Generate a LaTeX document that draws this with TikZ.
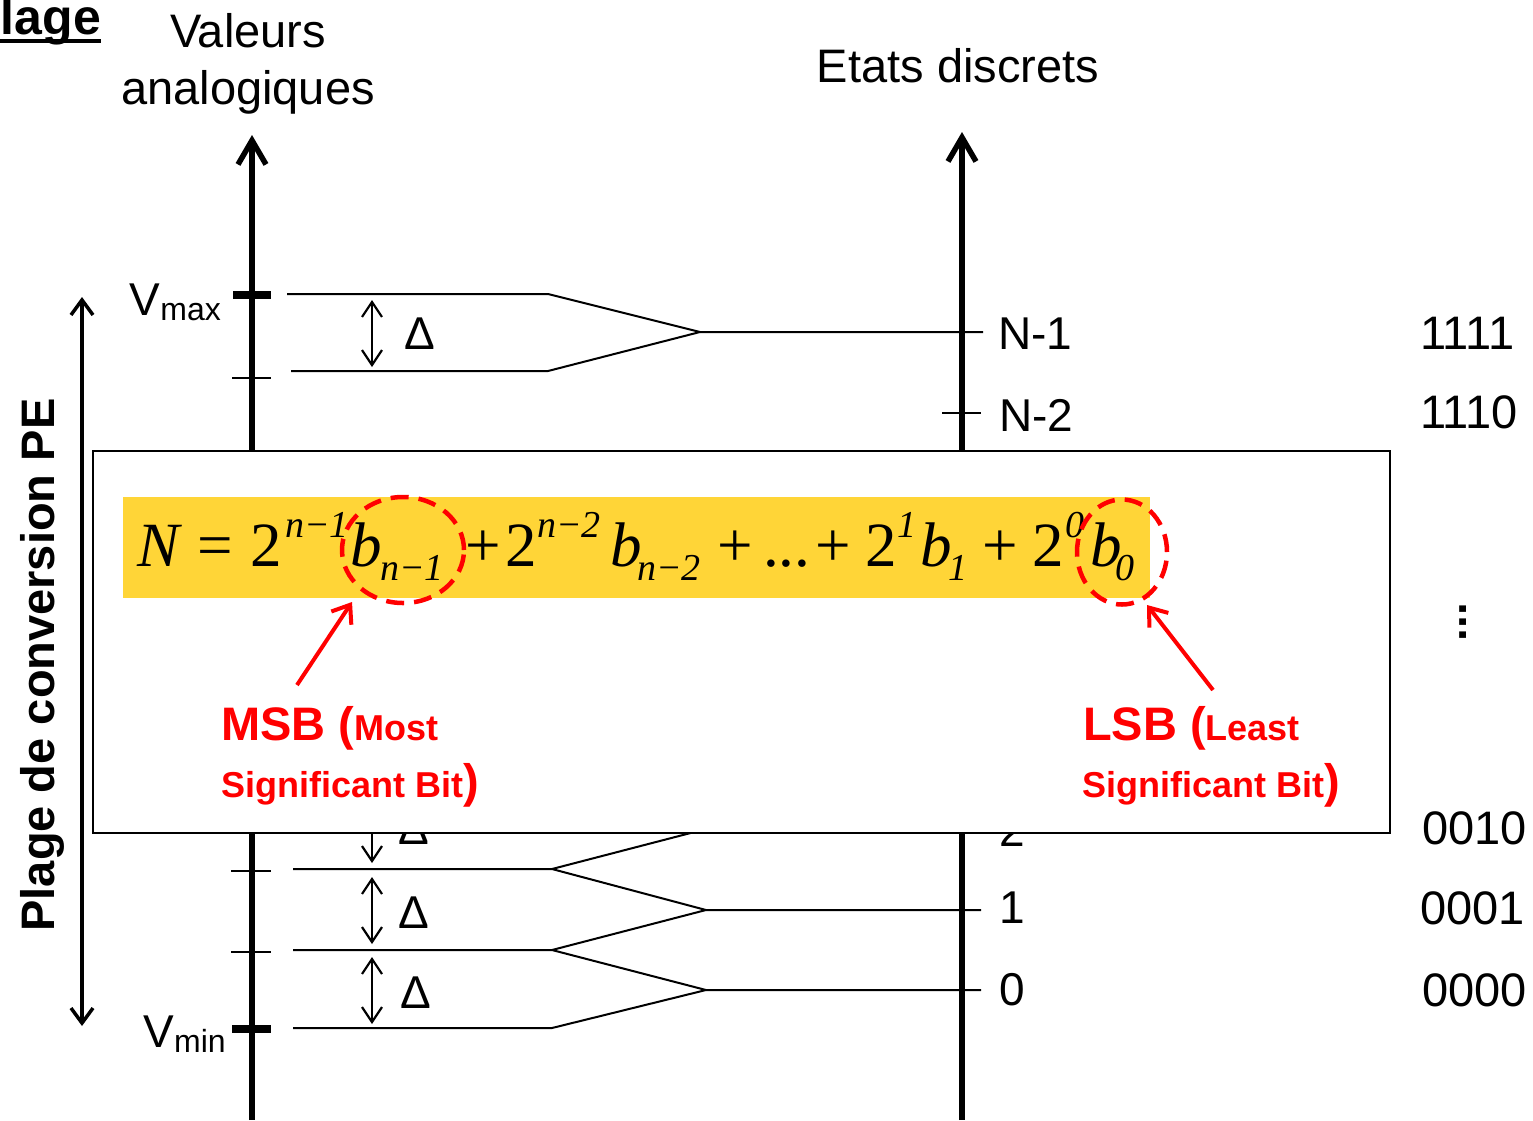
\documentclass[tikz,border=0pt]{standalone}
\usepackage{fontspec}
\setmainfont{Liberation Sans}
\newfontfamily\serifit{Liberation Serif}
\usetikzlibrary{arrows.meta,shapes.geometric}
\definecolor{hl}{RGB}{255,213,55}
\definecolor{rd}{RGB}{255,0,0}
\newcommand{\fbx}[2]{\makebox[#1pt][l]{#2}}
\newcommand{\supx}[1]{\raisebox{29pt}{\fontsize{38}{38}\selectfont\itshape #1}}
\newcommand{\subx}[1]{\raisebox{-14pt}{\fontsize{38}{38}\selectfont\itshape #1}}
\begin{document}
\begin{tikzpicture}[x=1pt,y=-1pt,
  txt/.style={inner sep=0pt, font=\fontsize{46}{52}\selectfont},
  codetxt/.style={inner sep=0pt, font=\fontsize{47}{52}\selectfont},
  bigtxt/.style={inner sep=0pt, font=\fontsize{47}{52}\selectfont},
  thinln/.style={line width=2pt},
  axisln/.style={line width=6pt, -{Straight Barb[length=24pt,width=28pt,line width=5.5pt]}},
  delta/.style={line width=2.2pt, {Straight Barb[length=15pt,width=20pt]}-{Straight Barb[length=15pt,width=20pt]}},
  tickthick/.style={line width=8pt},
  redarr/.style={draw=rd, line width=4pt, -{Straight Barb[length=16pt,width=24pt]}},
  ellip/.style={draw=rd, ellipse, dash pattern=on 18pt off 10pt, line width=4.5pt, inner sep=0pt},
  redtxt/.style={inner sep=0pt, text=rd, anchor=base west, font=\bfseries\fontsize{47}{52}\selectfont},
]
\useasboundingbox[fill=white] (0,0) rectangle (1533,1120);

% title fragments
\node[anchor=base east, inner sep=0pt, font=\bfseries\fontsize{50}{50}\selectfont] (lage) at (101,34) {lage};
\coordinate (ulA) at (0,41); \coordinate (ulB) at (101,41);
\draw[line width=4pt] (ulA) -- (ulB);
\node[bigtxt, anchor=base] (val1) at (248,47) {Valeurs};
\node[bigtxt, anchor=base] (val2) at (248,104) {analogiques};
\node[bigtxt, anchor=base] (etats) at (958,82) {Etats discrets};

% axes
\coordinate (laxb) at (252,1120); \coordinate (laxt) at (252,135);
\coordinate (raxb) at (962,1120); \coordinate (raxt) at (962,132);
\draw[axisln] (laxb) -- (laxt);
\draw[axisln] (raxb) -- (raxt);

% ticks on the analog axis
\draw[tickthick] (233,295) -- (271,295);
\draw[thinln] (232,378) -- (271,378);
\draw[thinln] (231,871) -- (271,871);
\draw[thinln] (231,952) -- (271,952);
\draw[tickthick] (232,1029) -- (271,1029);
\draw[thinln] (942,413) -- (981,413);

\node[anchor=base east, inner sep=0pt, font=\fontsize{46}{50}\selectfont] (vmax) at (221,315) {V\raisebox{-5pt}{\fontsize{32}{32}\selectfont max}};
\node[anchor=base east, inner sep=0pt, font=\fontsize{46}{50}\selectfont] (vmin) at (226,1047) {V\raisebox{-5pt}{\fontsize{32}{32}\selectfont min}};

% top quantization interval
\coordinate (a1) at (287,294); \coordinate (b1) at (548,294);
\coordinate (a2) at (291,371); \coordinate (b2) at (548,371);
\coordinate (cN1) at (700,332); \coordinate (eN1) at (983,332);
\draw[thinln] (a1) -- (b1) -- (cN1) -- (eN1);
\draw[thinln] (a2) -- (b2) -- (cN1);
\draw[delta] (372,300) -- (372,367);
\node[txt, anchor=west] (d1) at (404,334) {Δ};
\node[txt, anchor=west] (nm1) at (998,334) {N-1};
\node[txt, anchor=west] (nm2) at (999,415) {N-2};

% bottom quantization intervals
\coordinate (p3) at (293,869); \coordinate (q3) at (552,869);
\coordinate (p4) at (293,950); \coordinate (q4) at (552,950);
\coordinate (p5) at (293,1028); \coordinate (q5) at (552,1028);
\coordinate (c2) at (706,829); \coordinate (e2) at (981,829);
\coordinate (c1) at (706,910); \coordinate (e1) at (981,910);
\coordinate (c0) at (706,990); \coordinate (e0) at (981,990);
\draw[thinln] (p3) -- (q3) -- (c1) -- (e1);
\draw[thinln] (q3) -- (c2) -- (e2);
\draw[thinln] (p4) -- (q4) -- (c0) -- (e0);
\draw[thinln] (q4) -- (c1);
\draw[thinln] (p5) -- (q5) -- (c0);
\draw[delta] (372,795) -- (372,863);
\draw[delta] (372,877) -- (372,944);
\draw[delta] (372,957) -- (372,1024);
\node[txt, anchor=west] (d2) at (398,829) {Δ};
\node[txt, anchor=west] (d3) at (398,913) {Δ};
\node[txt, anchor=west] (d4) at (400,993) {Δ};
\node[txt, anchor=west] (s2) at (999,830) {2};
\node[txt, anchor=west] (s1) at (999,908) {1};
\node[txt, anchor=west] (s0) at (999,990) {0};

% binary codes
\node[codetxt, anchor=west] (c1111) at (1420,333) {1111};
\node[codetxt, anchor=west] (c1110) at (1420,412) {1110};
\node[inner sep=0pt, rotate=90, font=\bfseries\fontsize{46}{52}\selectfont] (vd) at (1463,622) {...};
\node[codetxt, anchor=west] (c0010) at (1422,828) {0010};
\node[codetxt, anchor=west] (c0001) at (1420,908) {0001};
\node[codetxt, anchor=west] (c0000) at (1422,990) {0000};

% conversion range
\coordinate (rgt) at (82,297); \coordinate (rgb) at (82,1026);
\draw[line width=3.5pt, {Straight Barb[length=15pt,width=22pt]}-{Straight Barb[length=15pt,width=22pt]}] (rgb) -- (rgt);
\node[rotate=90, anchor=base, inner sep=0pt, font=\bfseries\fontsize{47}{50}\selectfont] (plage) at (54,665) {Plage de conversion PE};

% overlay box
\node[draw, fill=white, line width=2pt, minimum width=1297pt, minimum height=382pt, inner sep=0pt, anchor=north west] (box) at (92,450) {};
\node[fill=hl, minimum width=1027pt, minimum height=101pt, inner sep=0pt, anchor=north west] (hlbox) at (123,497) {};
\node[anchor=base west, inner sep=0pt, font=\serifit\fontsize{63}{63}\selectfont] (formula) at (137,566)
 {\fbx{60}{\itshape N}\fbx{53}{=}\fbx{35}{2}\fbx{65}{\supx{n−1}}\fbx{30}{\itshape b}\fbx{85}{\subx{n−1}}\fbx{40}{+}\fbx{32}{2}\fbx{73}{\supx{n−2}}\fbx{27}{\itshape b}\fbx{80}{\subx{n−2}}\fbx{46}{+}\fbx{52}{...}\fbx{50}{+}\fbx{32}{2}\fbx{23}{\supx{1}}\fbx{28}{\itshape b}\fbx{34}{\subx{1}}\fbx{50}{+}\fbx{33}{2}\fbx{25}{\supx{0}}\fbx{25}{\itshape b}\subx{0}};

\node[ellip, minimum width=122pt, minimum height=106pt] (msbell) at (403,550) {};
\node[ellip, minimum width=90pt, minimum height=105pt] (lsbell) at (1122,552) {};

\coordinate (msbtail) at (297,685); \coordinate (msbtip) at (352,602);
\coordinate (lsbtail) at (1213,690); \coordinate (lsbtip) at (1147,605);
\draw[redarr] (msbtail) -- (msbtip);
\draw[redarr] (lsbtail) -- (lsbtip);

\node[redtxt] (msb1) at (221,740) {MSB ({\fontsize{36}{40}\selectfont Most}};
\node[redtxt] (msb2) at (221,797) {{\fontsize{36}{40}\selectfont Significant Bit})};
\node[redtxt] (lsb1) at (1083,740) {LSB ({\fontsize{36}{40}\selectfont Least}};
\node[redtxt] (lsb2) at (1082,797) {{\fontsize{36}{40}\selectfont Significant Bit})};
\end{tikzpicture}
\end{document}
